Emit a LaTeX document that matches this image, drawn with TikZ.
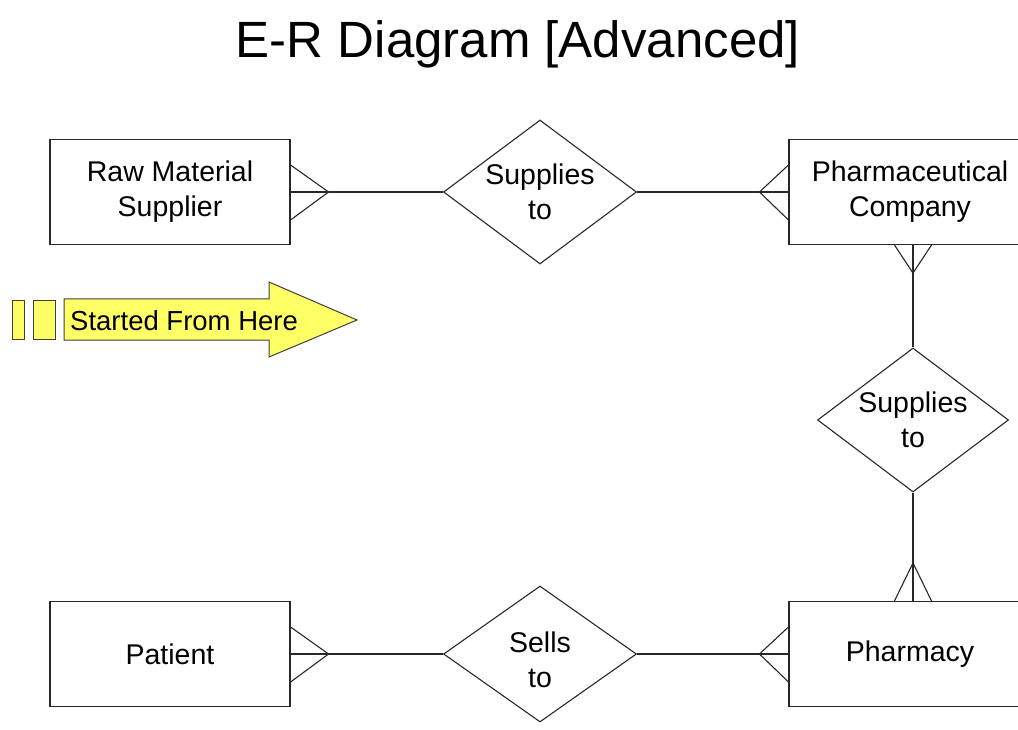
\documentclass[tikz,border=0pt]{standalone}
\usepackage{fontspec}
\setmainfont{Liberation Sans}
\usetikzlibrary{shapes.geometric,calc}
\definecolor{arrowyel}{RGB}{255,255,102}
\definecolor{edgecol}{RGB}{40,40,40}
\begin{document}
\begin{tikzpicture}[x=1pt,y=-1pt,
  ent/.style={draw=edgecol,line width=1.1pt,minimum width=240pt,minimum height=105pt,
    align=center,inner sep=0pt,font=\fontsize{28.5}{35}\selectfont},
  rel/.style={diamond,draw=edgecol,line width=1.1pt,inner sep=0pt,
    minimum width=193pt,minimum height=144pt},
  reltext/.style={align=center,font=\fontsize{28.5}{35}\selectfont,inner sep=0pt},
  conn/.style={draw=edgecol,line width=1.1pt},
  yelshape/.style={fill=arrowyel,draw=black!75,line width=1pt}]
\useasboundingbox (0,0) rectangle (1018,730);

% title
\node[anchor=base,font=\fontsize{51}{60}\selectfont] (title) at (518,58) {E-R Diagram [Advanced]};

% entities
\node[ent] (raw) at (170,192) {Raw Material\\Supplier};
\node[ent,minimum width=242pt] (pharma) at (910,192) {Pharmaceutical\\Company};
\node[ent] (patient) at (170,654) {Patient};
\node[ent,minimum width=242pt] (pharmacy) at (910,654) {Pharmacy};

% relationships
\node[rel,label={[reltext]center:Supplies\\to}] (sup1) at (540,192) {};
\node[rel,minimum width=191pt,label={[reltext]center:Supplies\\to}] (sup2) at (913,420) {};
\node[rel,minimum height=136pt,label={[reltext,yshift=-6pt]center:Sells\\to}] (sells) at (540,654) {};

% connectors
\draw[conn] (raw.east) -- (sup1.west);
\draw[conn] (sup1.east) -- (pharma.west);
\draw[conn] (sup2 |- pharma.south) -- (sup2.north);
\draw[conn] (sup2.south) -- (sup2 |- pharmacy.north);
\draw[conn] (patient.east) -- (sells.west);
\draw[conn] (sells.east) -- (pharmacy.west);

% crow's feet
\draw[conn] ($(raw.east)+(0,-27)$) -- ($(raw.east)+(38,0)$) -- ($(raw.east)+(0,28)$);
\draw[conn] ($(pharma.west)+(0,-27)$) -- ($(pharma.west)+(-29,0)$) -- ($(pharma.west)+(0,28)$);
\draw[conn] ($(sup2 |- pharma.south)+(-18.5,0)$) -- ($(sup2 |- pharma.south)+(0,28)$) -- ($(sup2 |- pharma.south)+(18.5,0)$);
\draw[conn] ($(sup2 |- pharmacy.north)+(-18.5,0)$) -- ($(sup2 |- pharmacy.north)+(0,-38)$) -- ($(sup2 |- pharmacy.north)+(18.5,0)$);
\draw[conn] ($(patient.east)+(0,-27)$) -- ($(patient.east)+(38,0)$) -- ($(patient.east)+(0,28)$);
\draw[conn] ($(pharmacy.west)+(0,-27)$) -- ($(pharmacy.west)+(-29,0)$) -- ($(pharmacy.west)+(0,28)$);

% start arrow
\draw[yelshape] (12,301) rectangle (24,339);
\draw[yelshape] (33,301) rectangle (55,339);
\draw[yelshape] (64,299) -- (269,299) -- (269,282) -- (357,320) -- (269,357) -- (269,340) -- (64,340) -- cycle;
\node[anchor=west,inner sep=0pt,font=\fontsize{27.5}{33}\selectfont] (start) at (70,321) {Started From Here};
\end{tikzpicture}
\end{document}
